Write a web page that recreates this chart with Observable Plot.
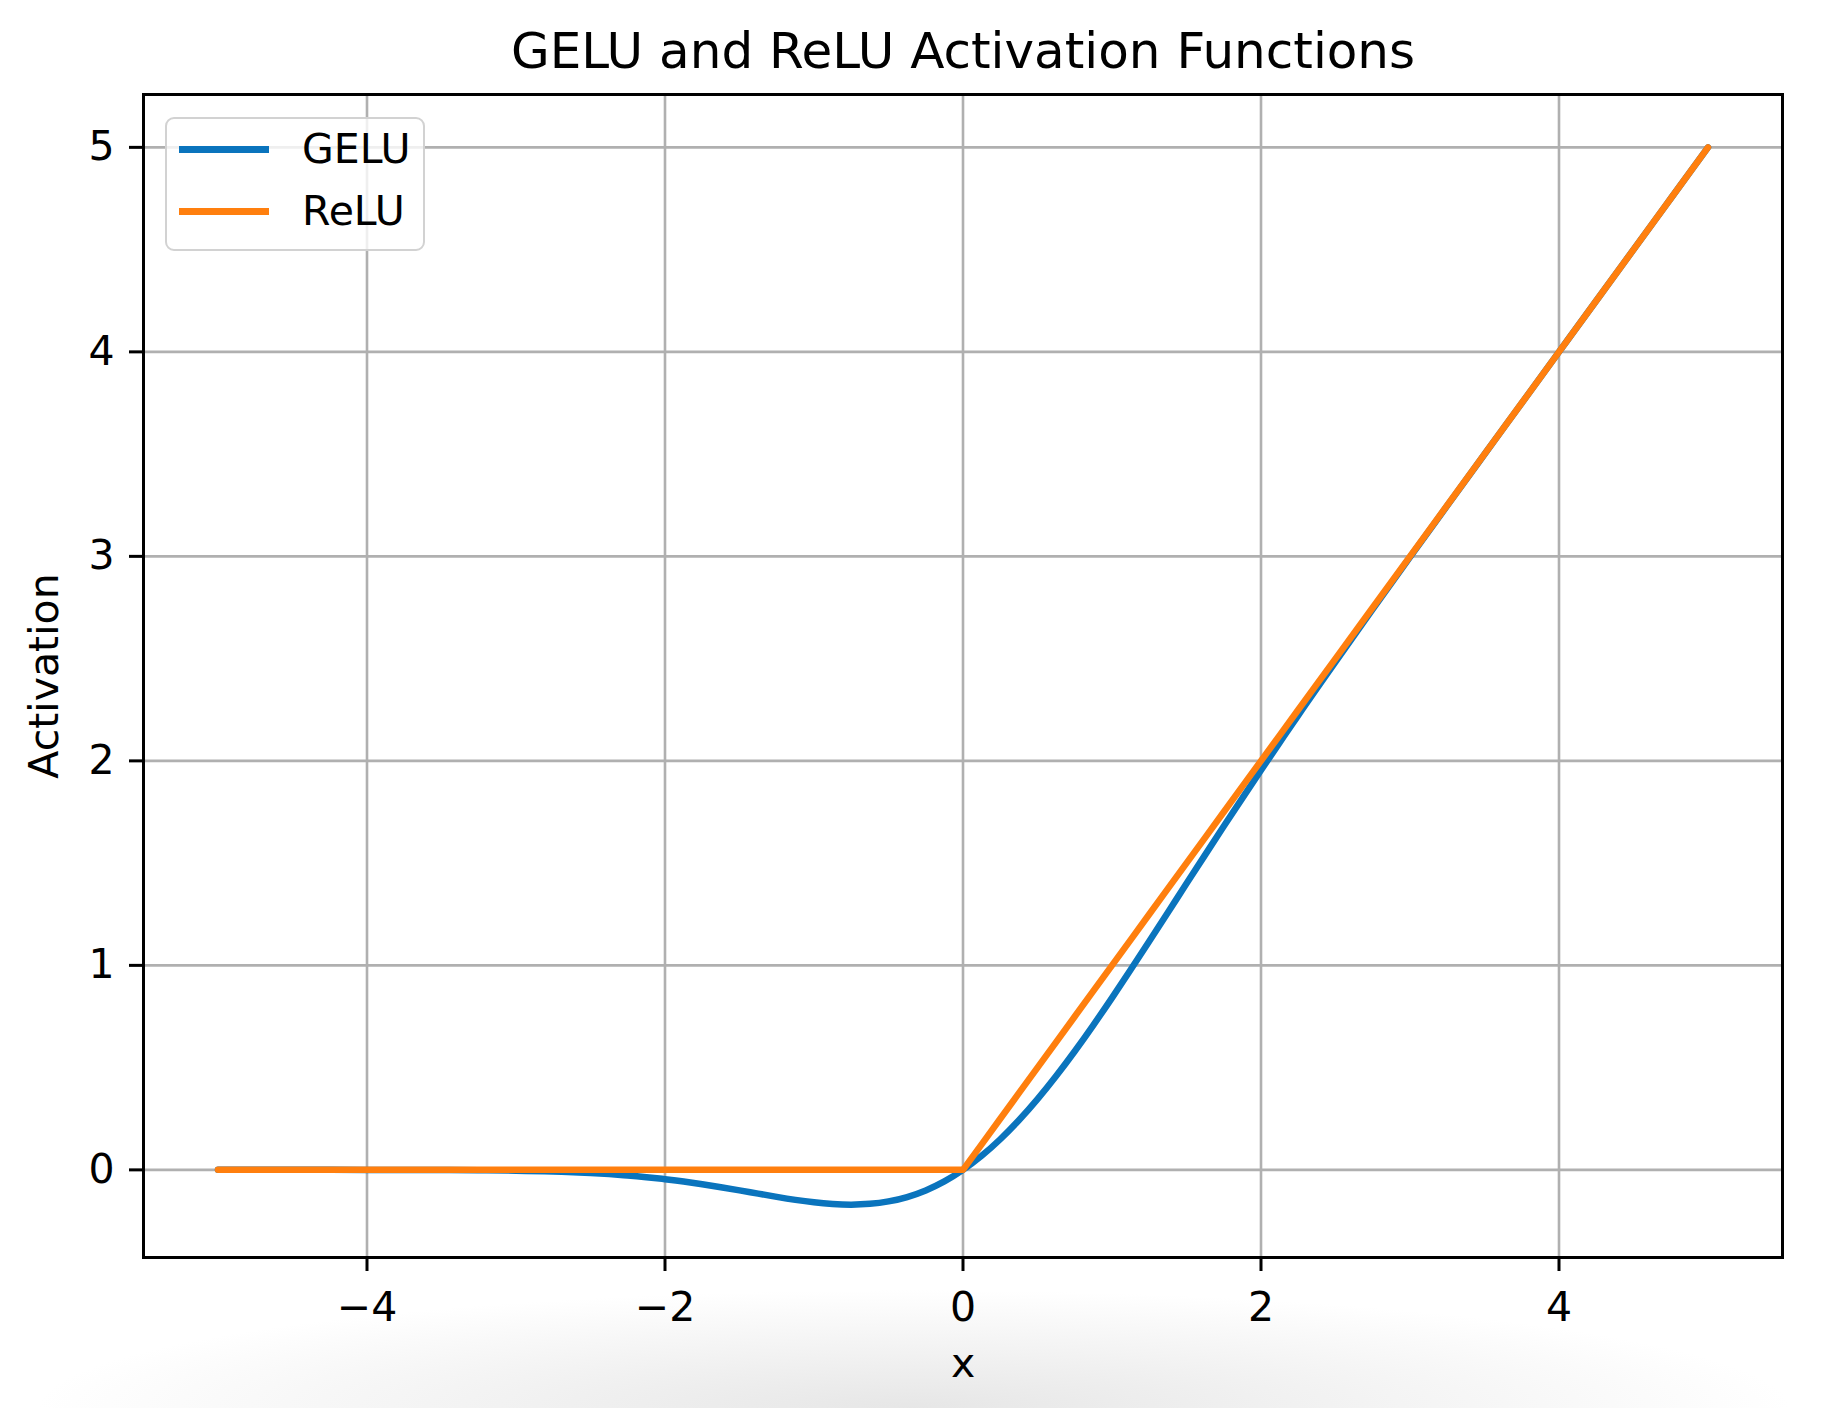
<!DOCTYPE html>
<html>
<head>
<meta charset="utf-8">
<script src="https://cdn.jsdelivr.net/npm/d3@7"></script>
<script src="https://cdn.jsdelivr.net/npm/@observablehq/plot@0.6"></script>
<style>
  html, body { margin: 0; padding: 0; background: #ffffff; }
  body { width: 1828px; height: 1408px; position: relative; overflow: hidden; font-family: "DejaVu Sans", sans-serif; }
  #shade { position: absolute; left: 0; top: 1290px; width: 1828px; height: 118px;
    background: radial-gradient(ellipse 48% 100% at 50% 100%, rgba(210,210,210,0.55), rgba(255,255,255,0) 100%); z-index: 0; }
  #title { position: relative; height: 80px; width: 1828px; z-index: 1; }
  #title span { position: absolute; left: 963px; top: 26px; transform: translateX(-50%);
    font-size: 50px; line-height: 50px; color: #000; white-space: nowrap; }
  #chart { position: relative; z-index: 1; }
  #legend { position: absolute; left: 165px; top: 117px; width: 256px; height: 130px;
    background: rgba(255,255,255,0.8); border: 2.5px solid #d2d2d2; border-radius: 9px; z-index: 2; }
  .item { position: absolute; left: 0; height: 41px; width: 256px; }
  .item .swatch { position: absolute; left: 12px; width: 90px; height: 6.5px; top: 17px; }
  .item .lab { position: absolute; left: 135px; top: 0; font-size: 41px; line-height: 41px; color: #000; }
</style>
</head>
<body>
<div id="shade"></div>
<div id="title"><span></span></div>
<div id="chart"></div>
<div id="legend"></div>
<script>
const titleText = "GELU and ReLU Activation Functions";
const xLabel = "x";
const yLabel = "Activation";
const seriesNames = ["GELU", "ReLU"];
const seriesColors = ["#0a74bd", "#ff7f0e"];

const xs = [-5, -4.75, -4.5, -4.25, -4, -3.75, -3.5, -3.25, -3, -2.75,
            -2.5, -2.375, -2.25, -2.125, -2, -1.875, -1.75, -1.625, -1.5, -1.375, -1.25, -1.125, -1, -0.875, -0.75, -0.625, -0.5, -0.375, -0.25, -0.125, 0,
            0.125, 0.25, 0.375, 0.5, 0.625, 0.75, 0.875, 1, 1.125, 1.25, 1.375, 1.5, 1.625, 1.75, 1.875, 2, 2.125, 2.25, 2.375, 2.5,
            2.75, 3, 3.25, 3.5, 3.75, 4, 4.25, 4.5, 4.75, 5];
const geluValues = [0, 0, 0, 0, -0.0001, -0.0003, -0.0008, -0.0019, -0.0040, -0.0082,
            -0.0155, -0.0208, -0.0275, -0.0357, -0.0455, -0.0570, -0.0701, -0.0847, -0.1002, -0.1163, -0.1320, -0.1466, -0.1587, -0.1669, -0.1700, -0.1662, -0.1543, -0.1327, -0.1003, -0.0563, 0,
            0.0687, 0.1497, 0.2423, 0.3457, 0.4588, 0.5800, 0.7081, 0.8413, 0.9784, 1.1180, 1.2587, 1.3998, 1.5403, 1.6799, 1.8180, 1.9545, 2.0893, 2.2225, 2.3542, 2.4845,
            2.7418, 2.9960, 3.2481, 3.4992, 3.7497, 3.9999, 4.25, 4.5, 4.75, 5];
const reluValues = [0, 0, 0, 0, 0, 0, 0, 0, 0, 0,
            0, 0, 0, 0, 0, 0, 0, 0, 0, 0, 0, 0, 0, 0, 0, 0, 0, 0, 0, 0, 0,
            0.125, 0.25, 0.375, 0.5, 0.625, 0.75, 0.875, 1, 1.125, 1.25, 1.375, 1.5, 1.625, 1.75, 1.875, 2, 2.125, 2.25, 2.375, 2.5,
            2.75, 3, 3.25, 3.5, 3.75, 4, 4.25, 4.5, 4.75, 5];
const xTicks = [-4, -2, 0, 2, 4];
const yTicks = [0, 1, 2, 3, 4, 5];
const xDomain = [-5.5, 5.5];
const yDomain = [-0.4285, 5.2585];

const gelu = xs.map((x, i) => ({x, y: geluValues[i]}));
const relu = xs.map((x, i) => ({x, y: reluValues[i]}));

document.querySelector("#title span").textContent = titleText;

const fmt = d => d < 0 ? "\u2212" + Math.abs(d) : String(d);

const chart = Plot.plot({
  width: 1828,
  height: 1328,
  marginTop: 14,
  marginBottom: 151,
  marginLeft: 143,
  marginRight: 46,
  style: {fontFamily: "DejaVu Sans", fontSize: "41px", color: "#000", background: "transparent"},
  x: {domain: xDomain, ticks: xTicks},
  y: {domain: yDomain, ticks: yTicks},
  marks: [
    Plot.gridX(xTicks, {stroke: "#b0b0b0", strokeOpacity: 1, strokeWidth: 2.6}),
    Plot.gridY(yTicks, {stroke: "#b0b0b0", strokeOpacity: 1, strokeWidth: 2.6}),
    Plot.axisX(xTicks, {tickSize: 14, tickPadding: 20, strokeWidth: 3, label: null, tickFormat: fmt}),
    Plot.axisY(yTicks, {tickSize: 14, tickPadding: 15, strokeWidth: 3, label: null, tickFormat: fmt}),
    Plot.line(gelu, {x: "x", y: "y", stroke: seriesColors[0], strokeWidth: 6.5, curve: "natural"}),
    Plot.line(relu, {x: "x", y: "y", stroke: seriesColors[1], strokeWidth: 6.5}),
    Plot.frame({stroke: "#000", strokeWidth: 3}),
    Plot.text([xLabel], {frameAnchor: "bottom", dy: 106, fontSize: 41, textAnchor: "middle", lineAnchor: "middle", fill: "#000"}),
    Plot.text([yLabel], {frameAnchor: "left", dx: -99, rotate: -90, fontSize: 41, textAnchor: "middle", lineAnchor: "middle", fill: "#000"})
  ]
});
document.getElementById("chart").appendChild(chart);

const legend = document.getElementById("legend");
seriesNames.forEach((name, i) => {
  const item = document.createElement("div");
  item.className = "item";
  item.style.top = (10 + i * 62) + "px";
  const sw = document.createElement("div");
  sw.className = "swatch";
  sw.style.background = seriesColors[i];
  const lab = document.createElement("div");
  lab.className = "lab";
  lab.textContent = name;
  item.appendChild(sw);
  item.appendChild(lab);
  legend.appendChild(item);
});
</script>
</body>
</html>
